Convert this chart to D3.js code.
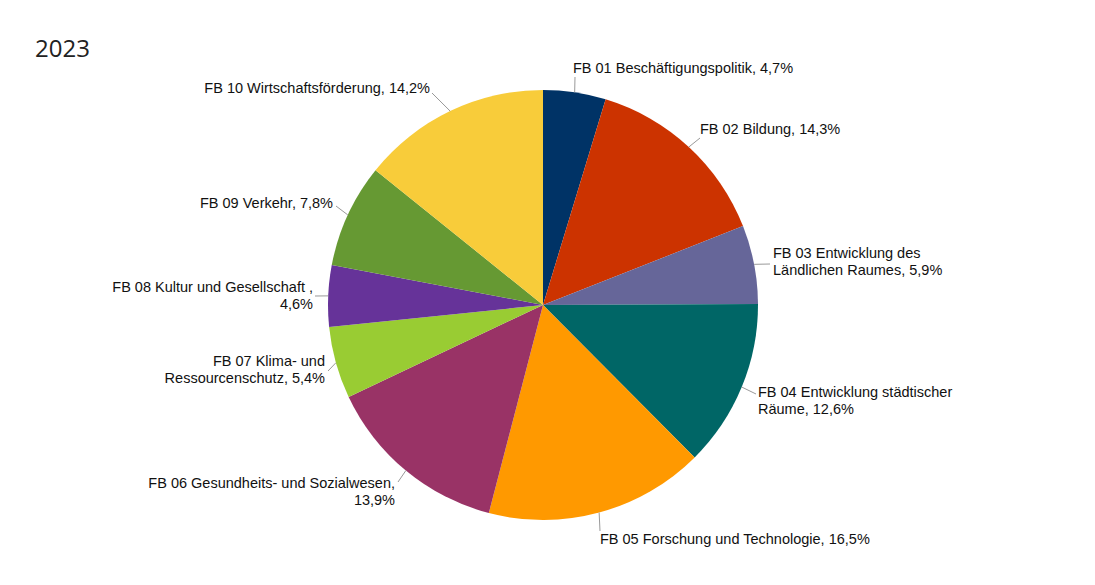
<!DOCTYPE html>
<html><head><meta charset="utf-8">
<script src="https://cdn.jsdelivr.net/npm/d3@7"></script>
<style>body{margin:0;background:#fff}</style>
</head><body>
<svg id="chart" width="1095" height="585"></svg>
<script>
// data
var labels = [
  ["FB 01 Beschäftigungspolitik, 4,7%"],
  ["FB 02 Bildung, 14,3%"],
  ["FB 03 Entwicklung des", "Ländlichen Raumes, 5,9%"],
  ["FB 04 Entwicklung städtischer", "Räume, 12,6%"],
  ["FB 05 Forschung und Technologie, 16,5%"],
  ["FB 06 Gesundheits- und Sozialwesen,", "13,9%"],
  ["FB 07 Klima- und", "Ressourcenschutz, 5,4%"],
  ["FB 08 Kultur und Gesellschaft ,", "4,6%"],
  ["FB 09 Verkehr, 7,8%"],
  ["FB 10 Wirtschaftsförderung, 14,2%"]
];
var values = [4.7, 14.3, 5.9, 12.6, 16.5, 13.9, 5.4, 4.6, 7.8, 14.2];
var colors = ["#003366", "#cc3300", "#666699", "#006666", "#ff9900",
              "#993366", "#99cc33", "#663399", "#669933", "#f8cc3a"];

// label layout: text position, anchor, and leader end point
var labelPos = [
  {x: 573, y: 73, a: "start", lx: 575, ly: 77},
  {x: 700, y: 134, a: "start", lx: 700, ly: 138},
  {x: 773, y: 258, a: "start", lx: 770, ly: 264},
  {x: 758, y: 397, a: "start", lx: 756, ly: 394},
  {x: 600, y: 544, a: "start", lx: 600, ly: 531},
  {x: 395, y: 488, a: "end", lx: 398, ly: 482},
  {x: 325, y: 366, a: "end", lx: 328, ly: 371},
  {x: 313, y: 292, a: "end", lx: 315, ly: 296},
  {x: 333, y: 208, a: "end", lx: 336, ly: 206},
  {x: 430, y: 93, a: "end", lx: 432, ly: 93}
];

var cx = 543, cy = 305, r = 215;
var svg = d3.select("#chart");

svg.append("text").attr("x", 35).attr("y", 57)
  .attr("font-family", "Open Sans").attr("font-size", 24).attr("fill", "#222")
  .text("2023");

var pie = d3.pie().sort(null).value(function(d) { return d; });
var arcs = pie(values);
var arc = d3.arc().innerRadius(0).outerRadius(r);

var g = svg.append("g").attr("transform", "translate(" + cx + "," + cy + ")");
g.selectAll("path").data(arcs).enter().append("path")
  .attr("d", arc)
  .attr("fill", function(d, i) { return colors[i]; });

// leader lines
arcs.forEach(function(d, i) {
  var m = (d.startAngle + d.endAngle) / 2;
  var px = cx + Math.sin(m) * r, py = cy - Math.cos(m) * r;
  svg.append("line")
    .attr("x1", px).attr("y1", py)
    .attr("x2", labelPos[i].lx).attr("y2", labelPos[i].ly)
    .attr("stroke", "#999").attr("stroke-width", 1);
});

labels.forEach(function(lines, i) {
  var p = labelPos[i];
  var t = svg.append("text")
    .attr("font-family", "Liberation Sans, Arial, sans-serif")
    .attr("font-size", 14.5).attr("fill", "#111")
    .attr("text-anchor", p.a);
  lines.forEach(function(s, j) {
    t.append("tspan").attr("x", p.x).attr("y", p.y + j * 17).text(s);
  });
});
</script>
</body></html>
